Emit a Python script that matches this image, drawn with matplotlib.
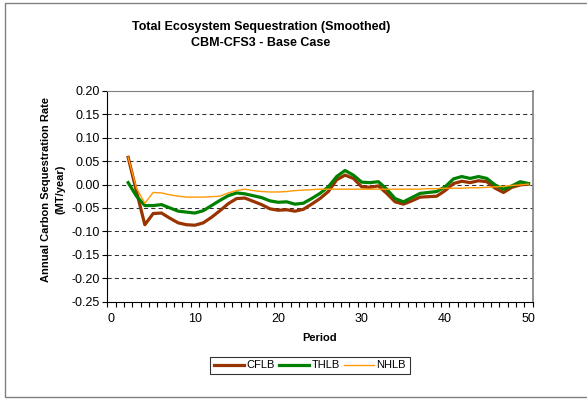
import numpy as np
import matplotlib
matplotlib.use("Agg")
import matplotlib.pyplot as plt
from matplotlib.patches import Rectangle

plt.rcParams['font.family'] = ['Liberation Sans', 'DejaVu Sans']

# smoothed annual sequestration rate by period (MT/year)
periods = list(range(2, 51))
cflb = [0.058, -0.015, -0.086, -0.062, -0.061, -0.072, -0.082, -0.086, -0.087, -0.082,
        -0.070, -0.056, -0.041, -0.030, -0.029, -0.036, -0.043, -0.052, -0.055, -0.054,
        -0.057, -0.053, -0.042, -0.030, -0.015, 0.010, 0.020, 0.013, -0.005, -0.006,
        -0.003, -0.019, -0.037, -0.042, -0.035, -0.027, -0.026, -0.025, -0.013, 0.002,
        0.007, 0.004, 0.008, 0.006, -0.008, -0.017, -0.006, -0.001, 0.001]
thlb = [0.004, -0.025, -0.045, -0.045, -0.043, -0.050, -0.057, -0.059, -0.061, -0.056,
        -0.045, -0.034, -0.024, -0.018, -0.020, -0.024, -0.028, -0.035, -0.038, -0.037,
        -0.042, -0.040, -0.030, -0.019, -0.005, 0.017, 0.030, 0.020, 0.005, 0.004,
        0.006, -0.010, -0.030, -0.037, -0.028, -0.019, -0.017, -0.015, -0.005, 0.012,
        0.017, 0.013, 0.017, 0.013, -0.001, -0.010, -0.003, 0.006, 0.002]
nhlb = [0.058, -0.008, -0.040, -0.017, -0.018, -0.022, -0.025, -0.027, -0.027, -0.027,
        -0.026, -0.025, -0.018, -0.013, -0.010, -0.013, -0.015, -0.016, -0.016, -0.015,
        -0.013, -0.012, -0.011, -0.010, -0.010, -0.010, -0.010, -0.010, -0.010, -0.010,
        -0.010, -0.010, -0.010, -0.010, -0.010, -0.010, -0.009, -0.009, -0.008, -0.008,
        -0.008, -0.007, -0.007, -0.006, -0.005, -0.004, -0.002, -0.001, 0.001]

yticks = [0.20, 0.15, 0.10, 0.05, 0.00, -0.05, -0.10, -0.15, -0.20, -0.25]
xticks = [0, 10, 20, 30, 40, 50]

W, H = 587, 401
fig = plt.figure(figsize=(W / 100, H / 100), dpi=100)
fig.patches.append(Rectangle((5 / W, 4 / H), 1.0, (H - 7) / H, transform=fig.transFigure,
                             fill=False, edgecolor='#808080', lw=1.0))

ax = fig.add_axes([107.3 / W, (H - 301.5) / H, 425.4 / W, 210.6 / H])

for y in yticks[1:-1]:
    ax.axhline(y, color='#303030', lw=0.75, dashes=(4, 3), zorder=1)

ax.plot(periods, cflb, color='#993300', lw=2.3, label='CFLB', zorder=3)
ax.plot(periods, thlb, color='#008000', lw=2.3, label='THLB', zorder=4)
ax.plot(periods, nhlb, color='#FF9900', lw=1.0, label='NHLB', zorder=5)

ax.set_xlim(-0.5, 50.5)
ax.set_ylim(-0.25, 0.20)
ax.set_yticks(yticks)
ax.set_yticklabels(['%.2f' % v for v in yticks])
ax.set_xticks(xticks)
ax.set_xticks(np.arange(-0.5, 51, 1), minor=True)
ax.tick_params(axis='x', which='major', length=0, pad=8, labelsize=9)
ax.tick_params(axis='x', which='minor', length=3.5, width=0.8)
ax.tick_params(axis='y', length=3.5, width=0.8, labelsize=9, pad=2)

ax.spines['left'].set_color('black')
ax.spines['bottom'].set_color('black')
ax.spines['top'].set_color('#808080')
ax.spines['right'].set_color('#808080')
ax.spines['right'].set_linewidth(1.2)

ax.set_xlabel('Period', fontsize=8, fontweight='bold', labelpad=6)
fig.text(53 / W, 1 - 189 / H, 'Annual Carbon Sequestration Rate\n(MT/year)', rotation=90,
         ha='center', va='center', fontsize=8, fontweight='bold', linespacing=1.5)

fig.text(261 / W, 1 - 35 / H, 'Total Ecosystem Sequestration (Smoothed)\nCBM-CFS3 - Base Case',
         ha='center', va='center', fontsize=9, fontweight='bold', linespacing=1.45)

leg = fig.legend(loc='center', bbox_to_anchor=(310 / W, 1 - 365.5 / H), ncol=3,
                 fontsize=8, frameon=True, fancybox=False, handlelength=2.7,
                 handletextpad=0.2, columnspacing=0.4, borderpad=0.35)
leg.get_frame().set_edgecolor('black')
leg.get_frame().set_linewidth(0.8)

fig.savefig('out.png', dpi=100)
